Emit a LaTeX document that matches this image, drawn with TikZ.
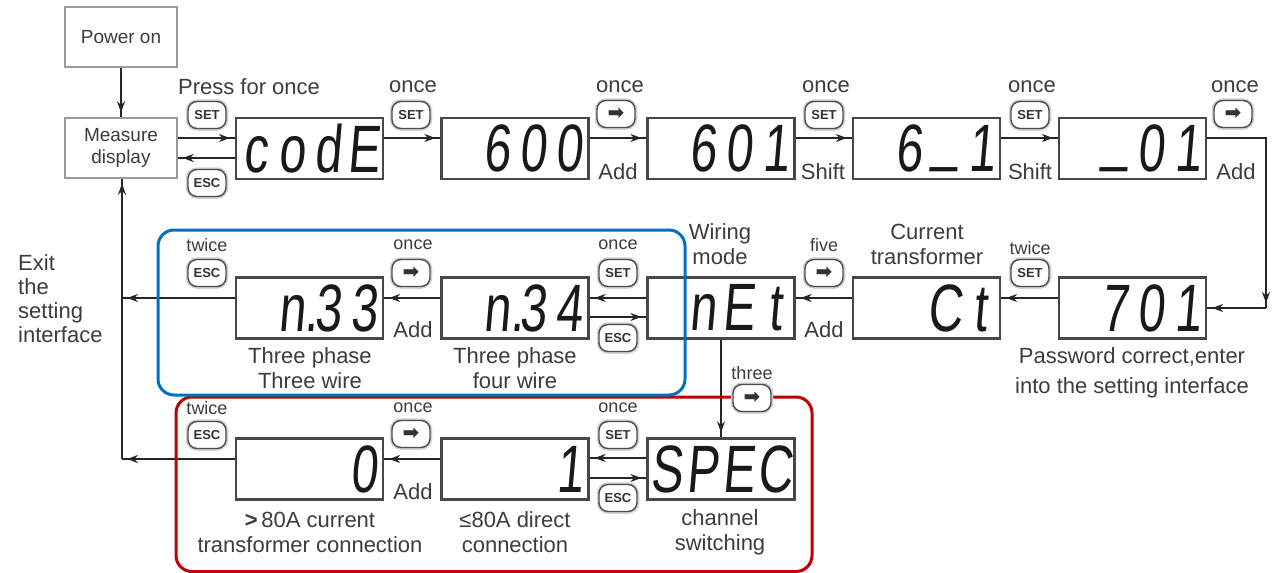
\documentclass[tikz,border=0pt]{standalone}
\usepackage{fontspec}
\usepackage{graphicx}
\setmainfont{Liberation Sans}
\newfontfamily\segfont[FakeSlant=0.12]{Liberation Sans}
\newfontfamily\symfont{DejaVu Sans}
\usetikzlibrary{arrows.meta,decorations.markings}
\definecolor{frameblue}{RGB}{0,112,192}
\definecolor{framered}{RGB}{192,0,0}
\definecolor{txt}{RGB}{60,60,60}
\newcommand\segcell[1]{\makebox[50pt][c]{#1}}
\newcommand\seg[4]{\scalebox{0.72}[1]{\segfont\fontsize{67}{67}\selectfont\segcell{#1}\segcell{#2}\segcell{#3}\segcell{#4}}}
\newcommand\one{\hfill 1\kern5pt}
\newcommand\und{\raisebox{0.2em}{\_}}
\newcommand\rarr{{\symfont\fontsize{20}{20}\selectfont ➡}}
\tikzset{
  disp/.style={draw=black!72, line width=2.2pt, minimum width=147pt, minimum height=61pt, inner sep=0pt, text=black!90},
  plainbox/.style={draw=black!40, line width=1.4pt, minimum width=112pt, minimum height=60pt, inner sep=0pt, align=center, text=txt, font=\fontsize{19}{22}\selectfont},
  btn/.style={draw=black!70, line width=1.4pt, rounded corners=9pt, minimum width=38pt, minimum height=27pt, inner sep=0pt, fill=white, text=black!80, font=\bfseries\fontsize{13}{13}\selectfont, preaction={draw=black!18, line width=4.5pt}},
  lbl/.style={font=\fontsize{22}{25}\selectfont, text=txt, inner sep=0pt, align=center},
  slbl/.style={font=\fontsize{18}{20}\selectfont, text=txt, inner sep=0pt},
  arr/.style={line width=2.8pt, draw=black!85, postaction={decorate}, decoration={markings, mark=at position -5pt with {\arrow{Stealth[length=11pt,width=8pt]}}}},
  framebox/.style={line width=3pt, rounded corners=16pt}
}
\begin{document}
\begin{tikzpicture}[x=1pt,y=-1pt]
\useasboundingbox (0,0) rectangle (1280,573);
% plain boxes
\node[plainbox] (pwr) at (121,37) {Power on};
\node[plainbox] (meas) at (121,148) {Measure\\display};
% displays row 1
\node[disp] (codE) at (309.5,148.5) {\seg{c}{o}{d}{E}};
\node[disp] (d600) at (515,148.5) {\seg{}{6}{0}{0}};
\node[disp] (d601) at (721,148.5) {\seg{}{6}{0}{\one}};
\node[disp] (d61) at (926.5,148.5) {\seg{}{6}{\und}{\one}};
\node[disp] (d01) at (1132.5,148.5) {\seg{}{\und}{0}{\one}};
% row 2
\node[disp] (n33) at (309.5,308) {\seg{}{n\rlap{.}}{3}{3}};
\node[disp] (n34) at (515,308) {\seg{}{n\rlap{.}}{3}{4}};
\node[disp] (net) at (721,308) {\seg{}{n}{E}{t}};
\node[disp] (ct) at (926.5,308) {\seg{}{}{C}{t}};
\node[disp] (d701) at (1132.5,308) {\seg{}{7}{0}{\one}};
% row 3
\node[disp] (d0) at (309.5,469) {\seg{}{}{}{0}};
\node[disp] (d1) at (515,469) {\seg{}{}{}{\one}};
\node[disp] (spec) at (721,469) {\seg{S}{P}{E}{C}};
% connectors
\draw[arr] (pwr) -- (meas);
\draw[arr] (meas.east |- 0,138) -- (codE.west |- 0,138);
\draw[arr] (codE.west |- 0,158) -- (meas.east |- 0,158);
\draw[arr] (codE.east |- 0,138) -- (d600.west |- 0,138);
\draw[arr] (d600.east |- 0,138) -- (d601.west |- 0,138);
\draw[arr] (d601.east |- 0,138) -- (d61.west |- 0,138);
\draw[arr] (d61.east |- 0,138) -- (d01.west |- 0,138);
\coordinate (cR) at (1266,308);
\draw[arr] (d01.east |- 0,138) -| (cR);
\draw[arr] (cR) -- (d701.east |- 0,308);
\draw[arr] (d701.west |- 0,298) -- (ct.east |- 0,298);
\draw[arr] (ct.west |- 0,298) -- (net.east |- 0,298);
\draw[arr] (net.west |- 0,298) -- (n34.east |- 0,298);
\draw[arr] (n34.east |- 0,317) -- (net.west |- 0,317);
\draw[arr] (n34.west |- 0,298) -- (n33.east |- 0,298);
\coordinate (v2) at (122,298);
\coordinate (v3) at (122,459);
\draw[arr] (n33.west |- 0,298) -- (v2);
\draw[arr] (v3) -- (v3 |- meas.south);
\draw[arr] (net.south) -- (spec.north);
\draw[arr] (spec.west |- 0,458) -- (d1.east |- 0,458);
\draw[arr] (d1.east |- 0,478) -- (spec.west |- 0,478);
\draw[arr] (d1.west |- 0,459) -- (d0.east |- 0,459);
\draw[arr] (d0.west |- 0,459) -- (v3);
% frames
\draw[framebox, draw=framered] (176,397) rectangle (812,571.5);
\draw[framebox, draw=frameblue] (158,230) rectangle (685,395);
% buttons row 1
\node[btn] (b1) at (207,115) {SET};
\node[btn] (b2) at (207,183) {ESC};
\node[btn] (b3) at (411,115) {SET};
\node[btn] (b4) at (616,114) {\rarr};
\node[btn] (b5) at (824,115) {SET};
\node[btn] (b6) at (1030,115) {SET};
\node[btn] (b7) at (1233,114) {\rarr};
% buttons row 2
\node[btn] (b8) at (207,273) {ESC};
\node[btn] (b9) at (411,273) {\rarr};
\node[btn] (b10) at (618,273) {SET};
\node[btn] (b11) at (618,338) {ESC};
\node[btn] (b12) at (824,273) {\rarr};
\node[btn] (b13) at (1030,273) {SET};
% buttons row 3
\node[btn] (b14) at (207,435) {ESC};
\node[btn] (b15) at (411,434) {\rarr};
\node[btn] (b16) at (618,435) {SET};
\node[btn] (b17) at (618,498) {ESC};
\node[btn] (b18) at (752,398) {\rarr};
% labels row 1
\node[lbl] (l1) at (249,87) {Press for once};
\node[lbl] (l2) at (413,87) {once};
\node[lbl] (l3) at (620,87) {once};
\node[lbl] (l4) at (826,87) {once};
\node[lbl] (l5) at (1032,87) {once};
\node[lbl] (l6) at (1235,87) {once};
\node[lbl] (l7) at (618,172) {Add};
\node[lbl] (l8) at (823,172) {Shift};
\node[lbl] (l9) at (1030,172) {Shift};
\node[lbl] (l10) at (1236,172) {Add};
% labels row 2
\node[slbl] (l11) at (207,245) {twice};
\node[slbl] (l12) at (413,245) {once};
\node[slbl] (l13) at (618,245) {once};
\node[slbl] (l14) at (824,245) {five};
\node[slbl] (l15) at (1030,248) {twice};
\node[lbl] (l16) at (413,330) {Add};
\node[lbl] (l17) at (824,330) {Add};
\node[lbl] (l18) at (720,244) {Wiring\\mode};
\node[lbl] (l19) at (927,244) {Current\\transformer};
\node[lbl] (l20) at (310,368) {Three phase\\Three wire};
\node[lbl] (l21) at (515,368) {Three phase\\four wire};
\node[lbl, font=\fontsize{22}{30}\selectfont] (l22) at (1132,373) {Password correct,enter\\into the setting interface};
\node[lbl, align=left, anchor=west, font=\fontsize{22}{24}\selectfont] (exit) at (18,299) {Exit\\the\\setting\\interface};
\node[slbl] (l23) at (752,373) {three};
% labels row 3
\node[slbl] (l24) at (207,408) {twice};
\node[slbl] (l25) at (413,408) {once};
\node[slbl] (l26) at (618,408) {once};
\node[lbl] (l27) at (413,492) {Add};
\node[lbl] (l28) at (310,532) {\textbf{>}\,80A current\\transformer connection};
\node[lbl] (l29) at (515,532) {≤80A direct\\connection};
\node[lbl] (l30) at (720,532) {channel\\switching};
\end{tikzpicture}
\end{document}
